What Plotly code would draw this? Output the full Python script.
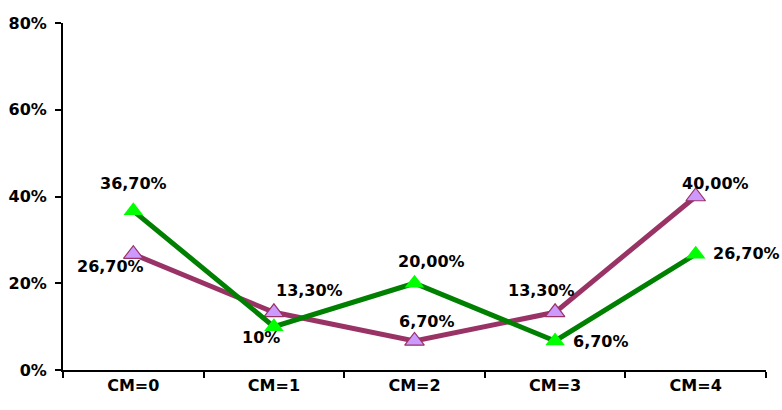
import plotly.graph_objects as go

categories = ["CM=0", "CM=1", "CM=2", "CM=3", "CM=4"]
green_vals = [36.7, 10.0, 20.0, 6.7, 26.7]
purple_vals = [26.7, 13.3, 6.7, 13.3, 40.0]
green_labels = ["36,70%", "10%", "20,00%", "6,70%", "26,70%"]
purple_labels = ["26,70%", "13,30%", "6,70%", "13,30%", "40,00%"]
y_ticks = [0, 20, 40, 60, 80]
y_tick_text = ["0%", "20%", "40%", "60%", "80%"]

# label offsets (px) relative to each point
green_shift = [(0, 27), (-13, -11), (17, 22), (46, -1), (51, 1)]
purple_shift = [(-23, -12), (36, 22), (12, 19), (-14, 22), (20, 13)]

FONT = "DejaVu Sans, sans-serif"

fig = go.Figure()

fig.add_trace(go.Scatter(x=categories, y=purple_vals, mode="lines+markers",
                         line=dict(color="#993366", width=5),
                         marker=dict(symbol="triangle-up", size=17, color="#cc99ff",
                                     line=dict(color="#993366", width=1.2)),
                         showlegend=False))
fig.add_trace(go.Scatter(x=categories, y=green_vals, mode="lines+markers",
                         line=dict(color="#008000", width=5),
                         marker=dict(symbol="triangle-up", size=17, color="#00ff00",
                                     line=dict(color="#00ff00", width=0)),
                         showlegend=False))

for vals, labels, shifts in [(green_vals, green_labels, green_shift),
                             (purple_vals, purple_labels, purple_shift)]:
    for c, v, t, (dx, dy) in zip(categories, vals, labels, shifts):
        fig.add_annotation(x=c, y=v, text=t, showarrow=False,
                           xshift=dx, yshift=dy,
                           font=dict(family=FONT, size=16, color="black", weight="bold"))

fig.update_layout(
    width=782, height=410,
    margin=dict(l=63, r=16, t=23, b=40),
    plot_bgcolor="white", paper_bgcolor="white",
    font=dict(family=FONT, size=16, color="black", weight="bold"),
)
fig.update_xaxes(type="category", range=[-0.5, 4.5], tickson="boundaries",
                 ticks="outside", ticklen=6, tickwidth=1.5, tickcolor="black",
                 showline=True, linecolor="black", linewidth=2,
                 showgrid=False, zeroline=False, automargin=False,
                 tickfont=dict(family=FONT, size=16, weight="bold"))
fig.update_yaxes(range=[0, 80], tickvals=y_ticks, ticktext=y_tick_text,
                 ticks="outside", ticklen=6, tickwidth=1.5, tickcolor="black",
                 ticklabelstandoff=5, automargin=False,
                 showline=True, linecolor="black", linewidth=2,
                 showgrid=False, zeroline=False,
                 tickfont=dict(family=FONT, size=16, weight="bold"))

fig.write_html("out.html", config={"displayModeBar": False},
               post_script="document.body.style.margin='0';")
